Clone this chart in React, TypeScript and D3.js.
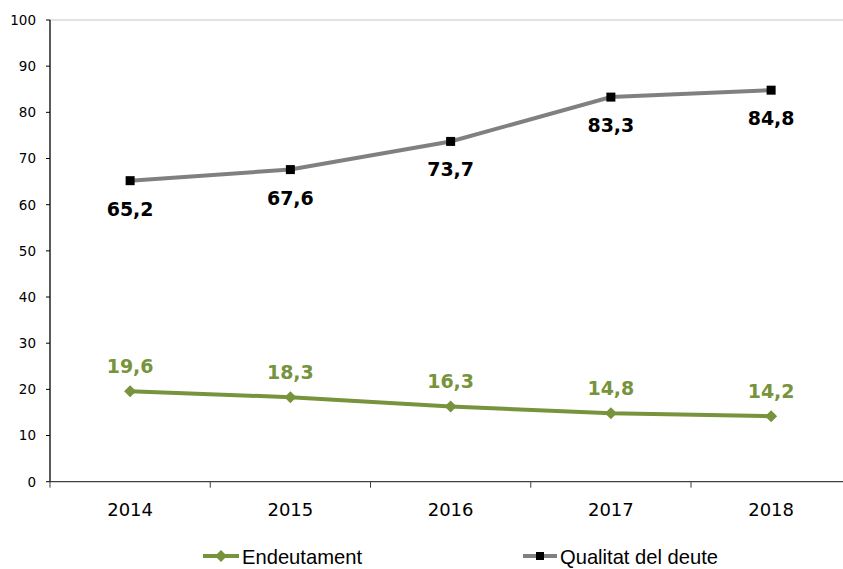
import React from "react";
import * as d3 from "d3";

const years = ["2014", "2015", "2016", "2017", "2018"];
const endeutament = [19.6, 18.3, 16.3, 14.8, 14.2];
const qualitat = [65.2, 67.6, 73.7, 83.3, 84.8];
const yTicks = [0, 10, 20, 30, 40, 50, 60, 70, 80, 90, 100];

const GREEN = "#77933C";
const GRAY = "#808080";
const W = 843;
const H = 569;
const fmt = (v: number) => v.toFixed(1).replace(".", ",");

export default function App() {
  const x = d3.scaleBand<string>().domain(years).range([50, 851.25]);
  const y = d3.scaleLinear().domain([0, 100]).range([481.7, 20]);
  const cx = (d: string) => (x(d) as number) + x.bandwidth() / 2;
  const line = d3
    .line<number>()
    .x((_, i) => cx(years[i]))
    .y((v) => y(v));
  const boundaries = years.map((d) => x(d) as number).concat([851.25]);
  const tickFont = "DejaVu Sans, Verdana, sans-serif";
  const legFont = "Liberation Sans, Arial, sans-serif";

  return (
    <svg
      width={W}
      height={H}
      style={{ position: "absolute", left: 0, top: 0, background: "#fff" }}
    >
      <line x1={50} x2={W} y1={y(100)} y2={y(100)} stroke="#d9d9d9" strokeWidth={1.5} />
      {/* y axis */}
      <line x1={50} x2={50} y1={y(100)} y2={y(0)} stroke="#000" strokeWidth={1.3} />
      {yTicks.map((t) => (
        <g key={t}>
          <line x1={46} x2={50} y1={y(t)} y2={y(t)} stroke="#000" strokeWidth={1} />
          <text
            x={36}
            y={y(t)}
            dy="0.36em"
            textAnchor="end"
            fontFamily={tickFont}
            fontSize={13.5}
            fill="#000"
          >
            {t}
          </text>
        </g>
      ))}
      {/* x axis */}
      <line x1={50} x2={W} y1={y(0)} y2={y(0)} stroke="#404040" strokeWidth={1.3} />
      {boundaries.map((b, i) => (
        <line key={i} x1={b} x2={b} y1={y(0)} y2={y(0) + 6} stroke="#404040" strokeWidth={1} />
      ))}
      {years.map((d) => (
        <text
          key={d}
          x={cx(d)}
          y={516}
          textAnchor="middle"
          fontFamily={tickFont}
          fontSize={18}
          fill="#000"
        >
          {d}
        </text>
      ))}
      {/* series */}
      <path d={line(qualitat) || ""} fill="none" stroke={GRAY} strokeWidth={4} />
      <path d={line(endeutament) || ""} fill="none" stroke={GREEN} strokeWidth={4} />
      {qualitat.map((v, i) => (
        <g key={"q" + i}>
          <rect x={cx(years[i]) - 4.5} y={y(v) - 4.5} width={9} height={9} fill="#000" />
          <text
            x={cx(years[i])}
            y={y(v) + 35}
            textAnchor="middle"
            fontFamily={tickFont}
            fontWeight="bold"
            fontSize={19}
            fill="#000"
          >
            {fmt(v)}
          </text>
        </g>
      ))}
      {endeutament.map((v, i) => (
        <g key={"e" + i}>
          <path
            d={`M${cx(years[i])},${y(v) - 6}L${cx(years[i]) + 6},${y(v)}L${cx(years[i])},${y(v) + 6}L${cx(years[i]) - 6},${y(v)}Z`}
            fill={GREEN}
          />
          <text
            x={cx(years[i])}
            y={y(v) - 18}
            textAnchor="middle"
            fontFamily={tickFont}
            fontWeight="bold"
            fontSize={19}
            fill={GREEN}
          >
            {fmt(v)}
          </text>
        </g>
      ))}
      {/* legend */}
      <g>
        <line x1={203} x2={239} y1={556} y2={556} stroke={GREEN} strokeWidth={4} />
        <path d="M221,550L227,556L221,562L215,556Z" fill={GREEN} />
        <text
          x={242}
          y={564}
          fontFamily={legFont}
          fontSize={21}
          textLength={120}
          lengthAdjust="spacingAndGlyphs"
          fill="#000"
        >
          Endeutament
        </text>
        <line x1={523} x2={557} y1={556} y2={556} stroke={GRAY} strokeWidth={4} />
        <rect x={536} y={552} width={8} height={8} fill="#000" />
        <text
          x={560}
          y={564}
          fontFamily={legFont}
          fontSize={21}
          textLength={158}
          lengthAdjust="spacingAndGlyphs"
          fill="#000"
        >
          Qualitat del deute
        </text>
      </g>
    </svg>
  );
}
